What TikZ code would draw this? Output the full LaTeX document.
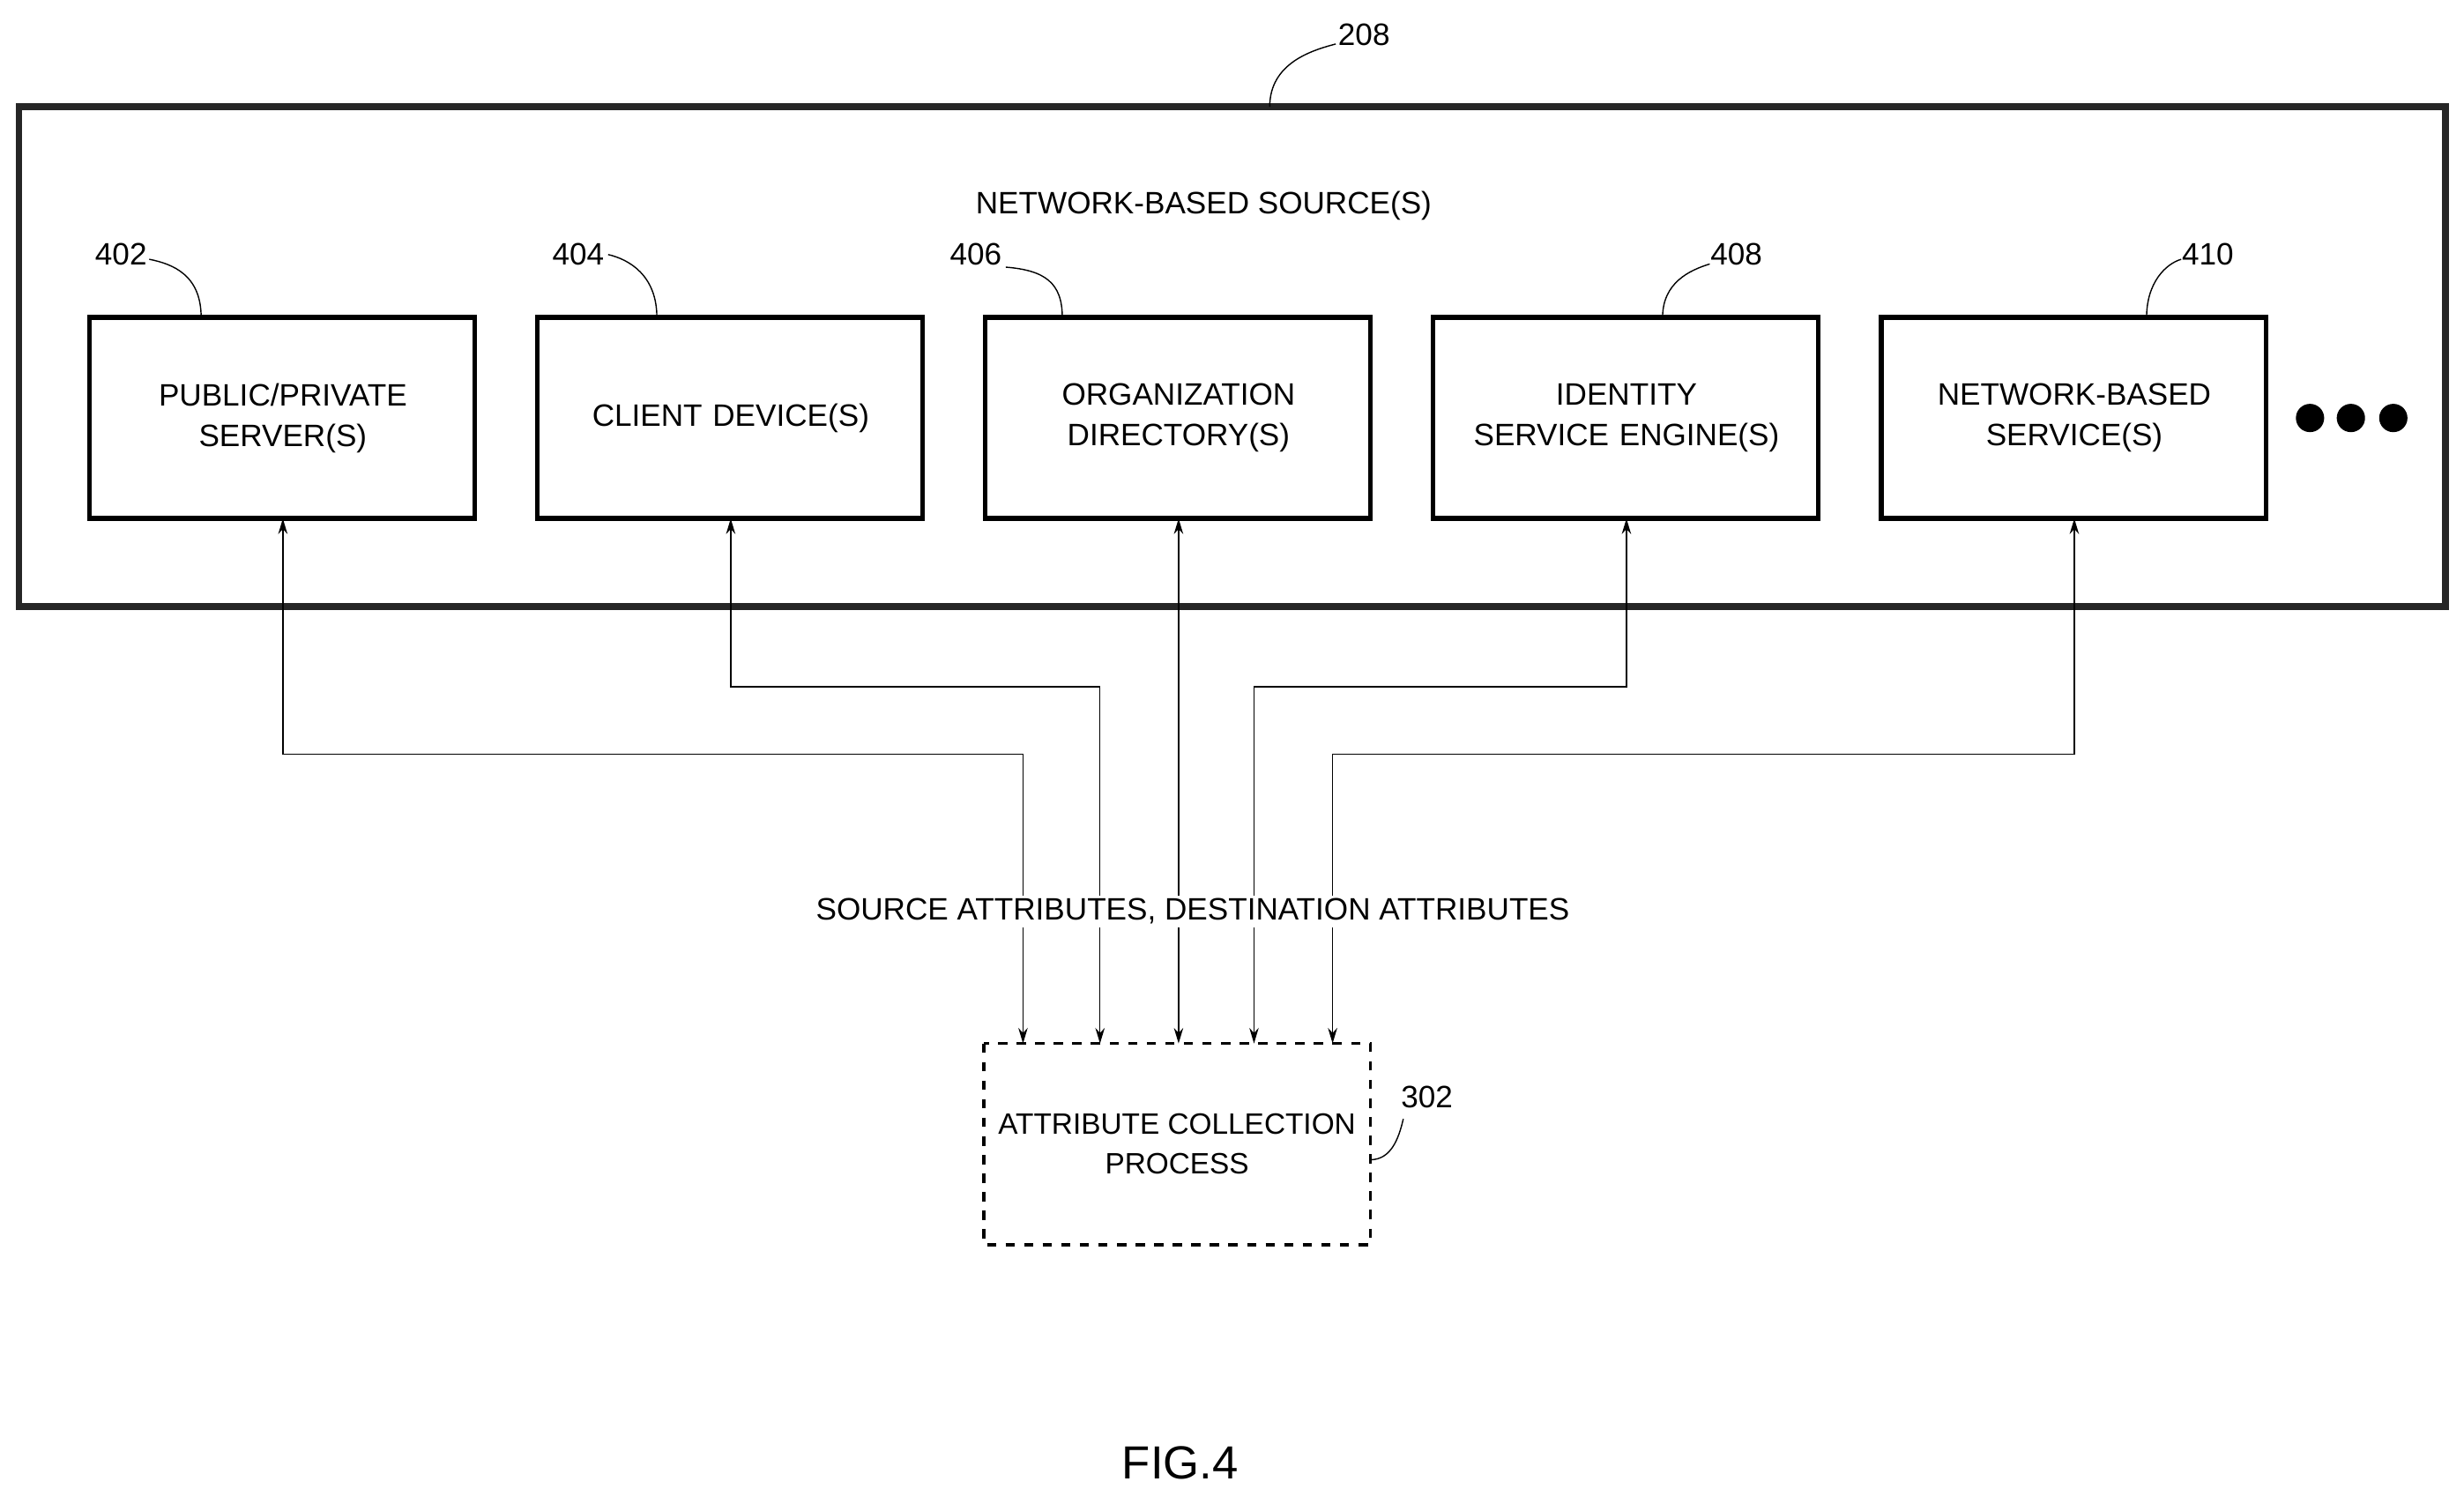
\documentclass[tikz,border=0pt]{standalone}
\usepackage{fontspec}
\setmainfont{Liberation Sans}
\usetikzlibrary{positioning,arrows.meta,calc}

\begin{document}
\begin{tikzpicture}[x=0.01783cm,y=-0.01783cm,font=\fontsize{10}{13}\selectfont]
\tikzset{
    source/.style={rectangle, draw=black, line width=1.6pt, minimum width=245\pgflinewidth, text width=3.6cm, align=center},
    flow/.style={draw=black, thin, {Stealth[length=5pt,width=3pt]}-{Stealth[length=5pt,width=3pt]}},
    ref/.style={draw=black, thin}
}
\useasboundingbox (0,0) rectangle (1568,957);
% outer network box
\draw[line width=2.2pt, draw=black!85] (12,68) rectangle (1556,386);
\node (outerlbl) at (868,22) {208};
\draw[ref] (808,68) .. controls (808,40) and (835,32) .. (850,28);
\node at (766,131) {NETWORK-BASED SOURCE(S)};
% sources
\foreach \name/\cx/\txt/\num/\lx in {pub/180/{PUBLIC/PRIVATE\\SERVER(S)}/402/77,
    client/465/{CLIENT DEVICE(S)}/404/368,
    org/750/{ORGANIZATION\\DIRECTORY(S)}/406/621,
    ise/1035/{IDENTITY\\SERVICE ENGINE(S)}/408/1105,
    nbs/1320/{NETWORK-BASED\\SERVICE(S)}/410/1405}{
  \draw[line width=1.6pt] (\cx-123,202) rectangle (\cx+122,330);
  \node[text width=4cm, align=center] (\name) at (\cx,266) {\txt};
  \coordinate (\name-s) at (\cx,330);
  \node (\name-num) at (\lx,162) {\num};
}
\draw[ref] (128,202) .. controls (128,175) and (110,168) .. (95,165);
\draw[ref] (418,202) .. controls (418,175) and (400,165) .. (387,162);
\draw[ref] (676,202) .. controls (676,180) and (665,172) .. (640,170);
\draw[ref] (1058,202) .. controls (1058,180) and (1075,172) .. (1088,168);
\draw[ref] (1366,202) .. controls (1366,180) and (1378,168) .. (1388,165);
% dots
\foreach \dx in {1470,1496,1523}
  \fill (\dx,266) circle (9);
% collection process
\draw[dashed, line width=1pt] (626,664) rectangle (872,792);
\node[align=center, font=\fontsize{9.5}{13}\selectfont] (acp) at (749,728) {ATTRIBUTE COLLECTION\\PROCESS};
\node (acp-num) at (908,698) {302};
\draw[ref] (872,738) .. controls (885,738) and (890,725) .. (893,712);
\foreach \n/\x in {a/651,b/700,c/750,d/798,e/848}
  \coordinate (in-\n) at (\x,664);
% connectors
\draw[flow] (pub-s) |- (651,480) -- (in-a);
\draw[flow] (client-s) |- (700,437) -- (in-b);
\draw[flow] (org-s) -- (in-c);
\draw[flow] (ise-s) |- (798,437) -- (in-d);
\draw[flow] (nbs-s) |- (848,480) -- (in-e);
\node[fill=white, inner sep=1pt] (attrs) at (759,580) {SOURCE ATTRIBUTES, DESTINATION ATTRIBUTES};
\node[font=\fontsize{15}{18}\selectfont] (fig) at (751,931) {FIG.4};
\end{tikzpicture}
\end{document}
